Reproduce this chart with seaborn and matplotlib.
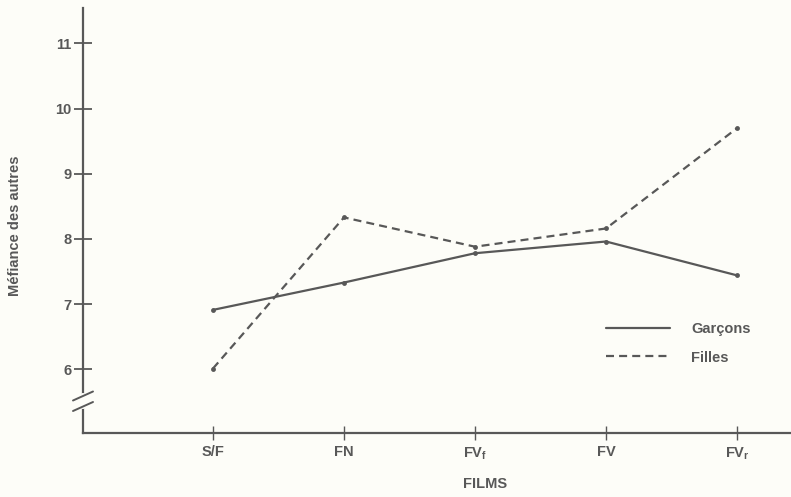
import matplotlib
matplotlib.use("Agg")
import matplotlib.pyplot as plt
import seaborn as sns
import pandas as pd

films = ["S/F", "FN", "FV$_f$", "FV", "FV$_r$"]
garcons = [6.91, 7.33, 7.78, 7.96, 7.44]
filles = [6.01, 8.33, 7.88, 8.16, 9.70]
yticks = [6, 7, 8, 9, 10, 11]
series_names = ["Garçons", "Filles"]

df = pd.DataFrame({
    "film": films * 2,
    "val": garcons + filles,
    "sexe": [series_names[0]] * len(films) + [series_names[1]] * len(films),
})

sns.set_theme(style="white")
plt.rcParams["font.family"] = ["Liberation Sans", "DejaVu Sans"]
plt.rcParams["mathtext.fontset"] = "custom"
plt.rcParams["mathtext.rm"] = "Liberation Sans:bold"
plt.rcParams["mathtext.it"] = "Liberation Sans:bold"
plt.rcParams["mathtext.default"] = "rm"

ink = "#585858"
bg = "#fdfdf8"

fig = plt.figure(figsize=(7.91, 4.97), dpi=100, facecolor=bg)
ax = fig.add_axes([83 / 791, 64 / 497, 1 - 83 / 791, 425 / 497])
ax.set_facecolor(bg)

sns.lineplot(
    data=df, x="film", y="val", hue="sexe", style="sexe",
    palette={"Garçons": ink, "Filles": ink},
    dashes={"Garçons": "", "Filles": (3.6, 2.3)},
    markers={"Garçons": "o", "Filles": "o"},
    markersize=3.5, markeredgewidth=0, linewidth=1.6,
    sort=False, ax=ax,
)

ax.set_xlim(-0.992, 4.412)
ax.set_ylim(5.02, 11.545)
ax.set_yticks(yticks)
ax.set_yticklabels([str(t) for t in yticks])

for s in ["top", "right"]:
    ax.spines[s].set_visible(False)
for s in ["left", "bottom"]:
    ax.spines[s].set_color(ink)
    ax.spines[s].set_linewidth(1.6)

ax.tick_params(axis="y", left=True, direction="inout", length=13, width=1.3,
               color=ink, labelsize=10.5, labelcolor=ink, pad=2)
ax.tick_params(axis="x", bottom=True, direction="inout", length=10, width=1.0,
               color=ink, labelsize=10.5, labelcolor=ink, pad=4)
for lab in ax.get_xticklabels() + ax.get_yticklabels():
    lab.set_fontweight("bold")

ax.set_xlabel("FILMS", fontsize=10.5, fontweight="bold", color=ink)
ax.set_ylabel("Méfiance des autres", fontsize=10.5, fontweight="bold", color=ink)
ax.xaxis.set_label_coords((485 - 83) / 708, (433 - 484) / 425)
ax.xaxis.label.set_va("center")
ax.yaxis.set_label_coords((15.5 - 83) / 708, (433 - 226) / 425)
ax.yaxis.label.set_va("center")

# axis break marks
y1, y2 = (433 - 395) / 425, (433 - 407) / 425
ax.plot([0, 0], [y2, y1], transform=ax.transAxes, color=bg, lw=3,
        clip_on=False, zorder=5)
for yc in [(433 - 396) / 425, (433 - 406.5) / 425]:
    ax.plot([-10 / 708, 10 / 708], [yc - 4.5 / 425, yc + 4.5 / 425],
            transform=ax.transAxes, color=ink, lw=1.4, clip_on=False, zorder=6)

leg = ax.legend(
    loc="upper left", bbox_to_anchor=((606 - 83) / 708, (433 - 322) / 425),
    frameon=False, borderpad=0, borderaxespad=0, handlelength=4.4,
    handletextpad=1.45, labelspacing=1.0, fontsize=10.5, title=None,
)
for t in leg.get_texts():
    t.set_color(ink)
    t.set_fontweight("bold")
for h in leg.get_lines():
    h.set_marker("")

fig.savefig("out.png", dpi=100, facecolor=bg)
